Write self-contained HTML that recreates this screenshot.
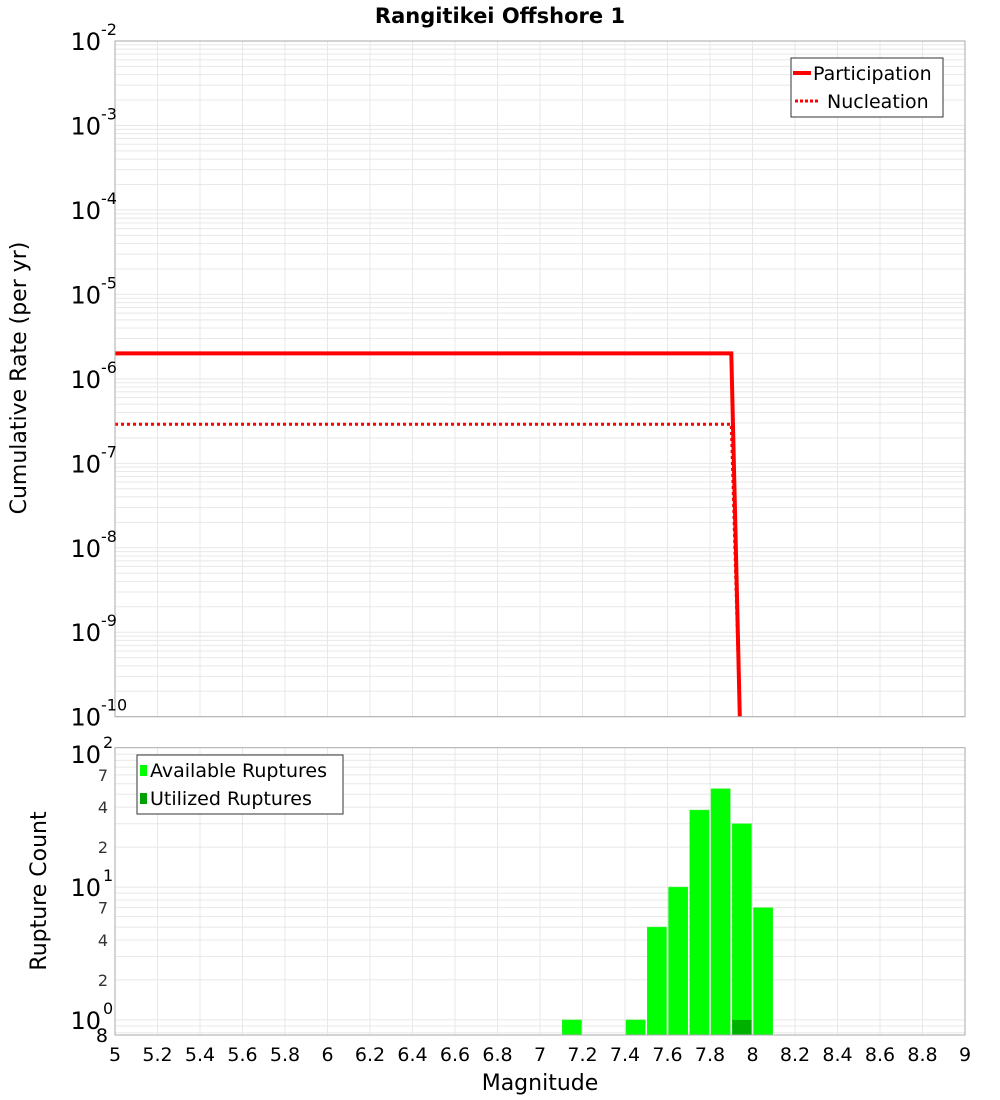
<!DOCTYPE html>
<html><head><meta charset="utf-8">
<style>
html,body{margin:0;padding:0;background:#fff;}
svg{display:block;font-family:"DejaVu Sans","Liberation Sans",sans-serif;}
</style></head>
<body>
<svg id="chart" width="1000" height="1100" viewBox="0 0 1000 1100" xmlns="http://www.w3.org/2000/svg">
<text x="500" y="23" text-anchor="middle" font-size="21" font-weight="bold">Rangitikei Offshore 1</text>
<g id="topPlot"></g>
<g id="botPlot"></g>
<text transform="translate(26,378) rotate(-90)" text-anchor="middle" font-size="22">Cumulative Rate (per yr)</text>
<text transform="translate(46,891) rotate(-90)" text-anchor="middle" font-size="22">Rupture Count</text>
<text x="540" y="1090" text-anchor="middle" font-size="22">Magnitude</text>
</svg>
<script>
const xTicks=[5,5.2,5.4,5.6,5.8,6,6.2,6.4,6.6,6.8,7,7.2,7.4,7.6,7.8,8,8.2,8.4,8.6,8.8,9];
const partMags=[5.0,7.9,7.94];
const partRates=[2.0e-6,2.0e-6,1e-10];
const nuclMags=[5.0,7.9,7.94];
const nuclRates=[2.9e-7,2.9e-7,1e-10];
const binMags=[7.15,7.45,7.55,7.65,7.75,7.85,7.95,8.05];
const availCounts=[1,1,5,10,38,55,30,7];
const usedCounts=[0,0,0,0,0,0,1,0];
const topDecades=[-10,-9,-8,-7,-6,-5,-4,-3,-2];
const botDecades=[0,1,2];
const botMinorLabels=[2,4,7];

const NS='http://www.w3.org/2000/svg';
const L=115,R=965;
const X=m=>L+(m-5)/4*(R-L);
const T0=41,T1=716.7;
const YT=v=>T0+(-2-Math.log10(v))/8*(T1-T0);
const B0=747.7,B1=1035;
const bMin=0.77,bMax=112;
const YB=v=>B1-(Math.log10(v)-Math.log10(bMin))/(Math.log10(bMax)-Math.log10(bMin))*(B1-B0);
function el(p,tag,a,txt){const e=document.createElementNS(NS,tag);for(const k in a)e.setAttribute(k,a[k]);if(txt!==undefined)e.textContent=txt;p.appendChild(e);return e;}
const topG=document.getElementById('topPlot'),botG=document.getElementById('botPlot');

let g=el(topG,'g',{});


xTicks.forEach(m=>el(g,'line',{x1:X(m),x2:X(m),y1:T0,y2:T1,stroke:'#e8e8e8'}));
for(let d=-10;d<-2;d++)for(let k=1;k<10;k++){const y=YT(k*Math.pow(10,d));el(g,'line',{x1:L,x2:R,y1:y,y2:y,stroke:'#e8e8e8'});}
const cp=el(topG,'clipPath',{id:'ct'});el(cp,'rect',{x:L,y:T0,width:R-L,height:T1-T0});
function path(ms,vs){return ms.map((m,i)=>(i?'L':'M')+X(m).toFixed(1)+','+YT(vs[i]).toFixed(1)).join(' ');}
let p=el(topG,'path',{d:path(partMags,partRates),fill:'none',stroke:'#ff0000','stroke-width':4,'clip-path':'url(#ct)'});


p=el(topG,'path',{d:path(nuclMags,nuclRates),fill:'none',stroke:'#ff0000','stroke-width':3,'stroke-dasharray':'3,3','clip-path':'url(#ct)'});


el(topG,'rect',{x:L,y:T0,width:R-L,height:T1-T0,fill:'none',stroke:'#aaa'});
topDecades.forEach(d=>{const y=YT(Math.pow(10,d));const t=el(topG,'text',{x:101,y:y+9,'text-anchor':'end','font-size':24},'10');


el(topG,'text',{x:101,y:y-6,'font-size':16},String(d));});
let lg=el(topG,'g',{});


el(lg,'rect',{x:791,y:58,width:152,height:59,fill:'#fff',stroke:'#333'});
el(lg,'line',{x1:793,x2:811,y1:73,y2:73,stroke:'#f00','stroke-width':4});
el(lg,'text',{x:813,y:80,'font-size':19},'Participation');
el(lg,'line',{x1:795,x2:820,y1:101,y2:101,stroke:'#f00','stroke-width':3,'stroke-dasharray':'3,2'});
el(lg,'text',{x:827,y:108,'font-size':19},'Nucleation');

g=el(botG,'g',{});


xTicks.forEach(m=>el(g,'line',{x1:X(m),x2:X(m),y1:B0,y2:B1,stroke:'#e8e8e8'}));
for(let d=-1;d<3;d++)for(let k=1;k<10;k++){const v=k*Math.pow(10,d);if(v<bMin||v>bMax)continue;const y=YB(v);el(g,'line',{x1:L,x2:R,y1:y,y2:y,stroke:'#e8e8e8'});}
binMags.forEach((m,i)=>{
 const y=YB(availCounts[i]);
 const b=el(botG,'rect',{x:X(m-0.05)+1,y:y,width:X(m+0.05)-X(m-0.05)-2,height:B1-y,fill:'#00ff00',stroke:'#33ee33','stroke-width':0.5});
 
 
 if(usedCounts[i]>0){const yu=YB(usedCounts[i]);
  const u=el(botG,'rect',{x:X(m-0.05)+1,y:yu,width:X(m+0.05)-X(m-0.05)-2,height:B1-yu,fill:'#00b000'});
  
  }
});
el(botG,'rect',{x:L,y:B0,width:R-L,height:B1-B0,fill:'none',stroke:'#aaa'});
botDecades.forEach(d=>{const y=YB(Math.pow(10,d));const t=el(botG,'text',{x:101,y:y+9,'text-anchor':'end','font-size':24},'10');


el(botG,'text',{x:103,y:y-6,'font-size':16},String(d));
if(d<2)botMinorLabels.forEach(k=>{const yy=YB(k*Math.pow(10,d));if(yy>B0+8)el(botG,'text',{x:108,y:yy+6,'text-anchor':'end','font-size':16,fill:'#333'},String(k));});});
el(botG,'text',{x:108,y:YB(0.8)+9,'text-anchor':'end','font-size':19},'8');
lg=el(botG,'g',{});


el(lg,'rect',{x:137,y:755,width:206,height:59,fill:'#fff',stroke:'#333'});
el(lg,'rect',{x:140,y:765,width:7,height:11,fill:'#00ff00'});
el(lg,'text',{x:150,y:777,'font-size':19},'Available Ruptures');
el(lg,'rect',{x:140,y:793,width:7,height:11,fill:'#00a000'});
el(lg,'text',{x:150,y:805,'font-size':19},'Utilized Ruptures');
xTicks.forEach(m=>{const t=el(botG,'text',{x:X(m),y:1061,'text-anchor':'middle','font-size':19},String(m));

});
</script>
</body></html>
